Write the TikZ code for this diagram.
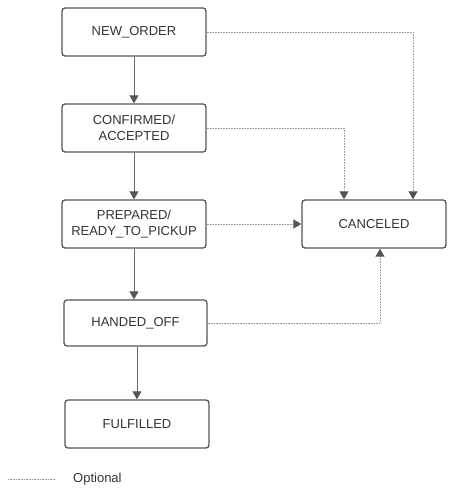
\documentclass[tikz,border=0pt]{standalone}
\usepackage{fontspec}
\setmainfont{Liberation Sans}
\usetikzlibrary{arrows.meta}
\definecolor{boxline}{HTML}{555555}
\definecolor{arrline}{HTML}{666666}
\definecolor{optline}{HTML}{9A9A9A}
\definecolor{txt}{HTML}{333333}
\begin{document}
\begin{tikzpicture}[x=1pt,y=-1pt,font=\fontsize{13}{15.5}\selectfont,line join=round,
	>={Triangle[width=9pt,length=8pt,color=boxline]},
	state/.style={draw=boxline,line width=1.3pt,rounded corners=3pt,minimum width=144pt,minimum height=48pt,align=center,text=txt,inner sep=2pt},
	flow/.style={->,draw=arrline,line width=0.9pt},
	optional/.style={->,draw=optline,line width=0.9pt,dash pattern=on 1pt off 0.6pt}]
	\useasboundingbox (0,0) rectangle (453,499);
	\node[state] (neworder) at (134,32) {NEW\_ORDER};
	\node[state] (confirmed) at (134,128) {CONFIRMED/\\ACCEPTED};
	\node[state] (prepared) at (134,224) {PREPARED/\\READY\_TO\_PICKUP};
	\node[state] (canceled) at (374,224) {CANCELED};
	\node[state,minimum height=46pt,minimum width=143pt] (handedoff) at (135.5,323) {HANDED\_OFF};
	\node[state] (fulfilled) at (137,424) {FULFILLED};
	\draw[flow] (neworder) -- (confirmed);
	\draw[flow] (confirmed) -- (prepared);
	\draw[flow] (prepared.south) -- (prepared.south |- handedoff.north);
	\draw[flow] (handedoff.south -| fulfilled.north) -- (fulfilled.north);
	\draw[optional] (neworder.east) -| ([xshift=39pt]canceled.north);
	\draw[optional] (confirmed.east) -| ([xshift=-30pt]canceled.north);
	\draw[optional] (prepared) -- (canceled);
	\draw[optional] (handedoff.east) -| ([xshift=6pt]canceled.south);
	% legend
	\coordinate (legA) at (8,479);
	\coordinate (legB) at (56,479);
	\draw[optline,line width=0.8pt,dash pattern=on 1pt off 0.6pt] (legA) -- (legB);
	\node[anchor=west,text=txt,inner sep=0pt] (legtext) at (73,479) {Optional};
\end{tikzpicture}
\end{document}
